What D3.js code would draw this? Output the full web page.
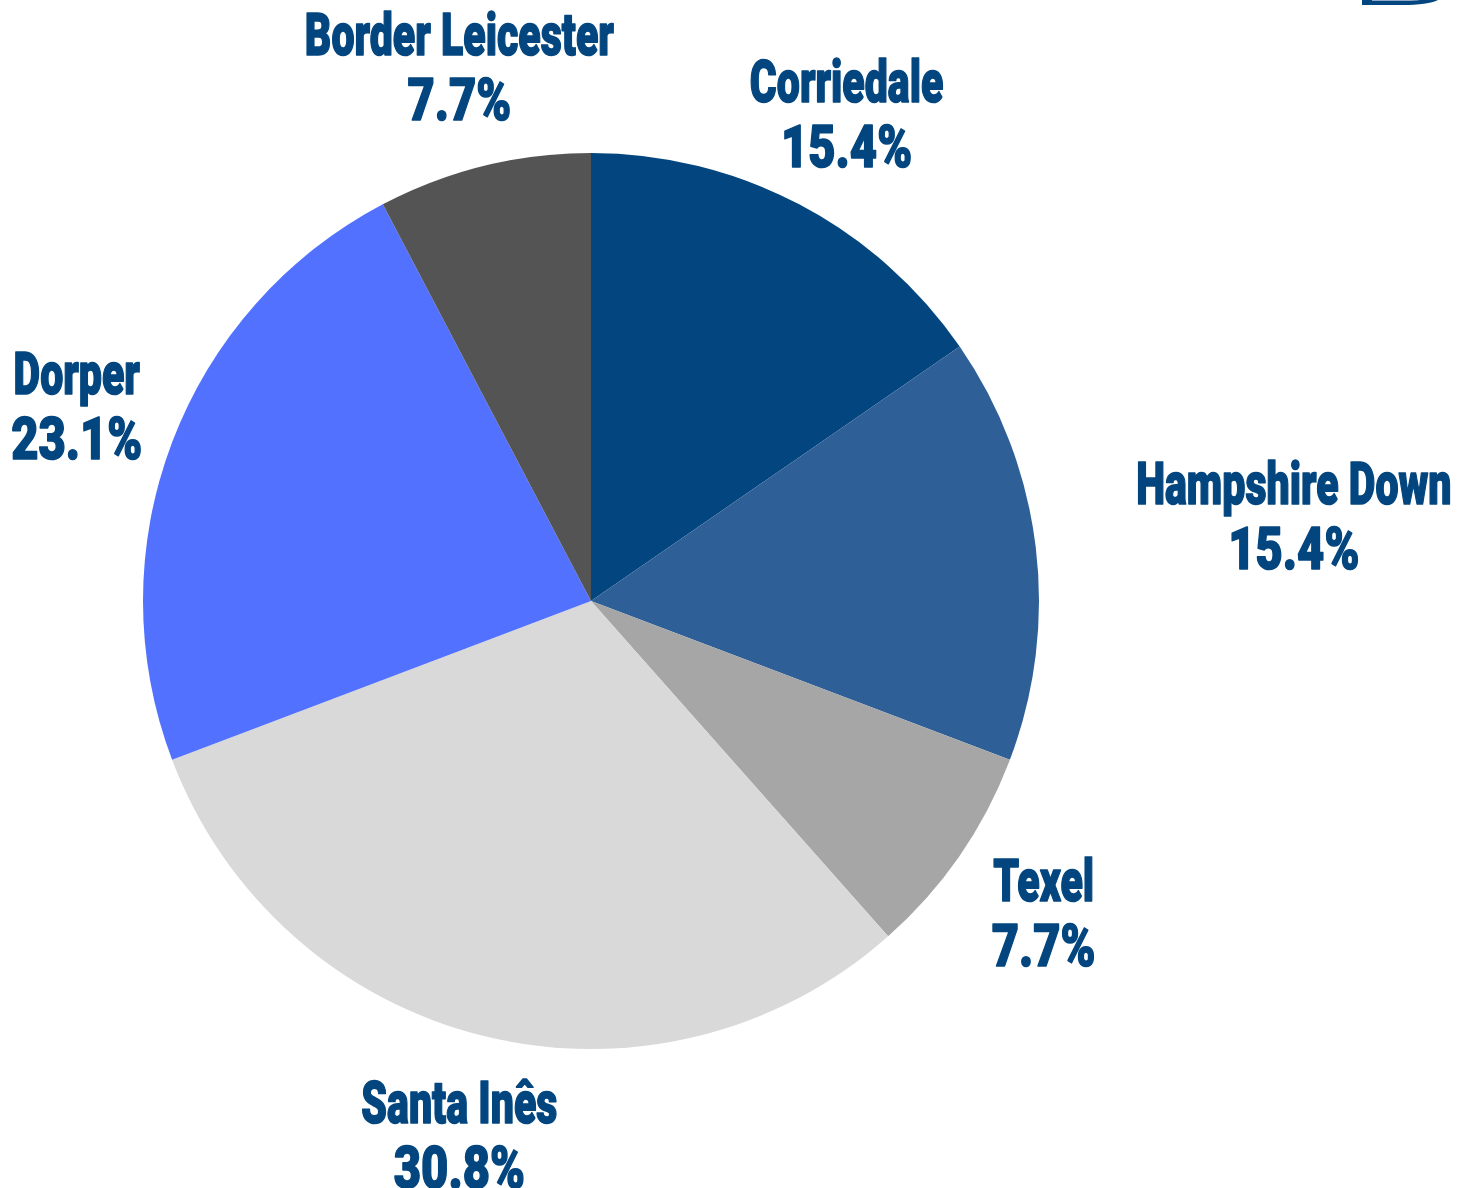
<!DOCTYPE html>
<html>
<head>
<meta charset="utf-8">
<script src="https://cdn.jsdelivr.net/npm/d3@7"></script>
<style>
  html, body { margin: 0; padding: 0; background: #ffffff; }
  svg { display: block; }
</style>
</head>
<body>
<svg id="chart" width="1466" height="1188"></svg>
<script>
// ---- data ----
const breeds = ["Corriedale", "Hampshire Down", "Texel", "Santa Inês", "Dorper", "Border Leicester"];
const counts = [2, 2, 1, 4, 3, 1];
const percentLabels = ["15.4%", "15.4%", "7.7%", "30.8%", "23.1%", "7.7%"];
const sliceColors = ["#03467f", "#2e5f97", "#a6a6a6", "#d9d9d9", "#5271ff", "#545454"];

// ---- layout ----
const W = 1466, H = 1188;
const cx = 591, cy = 601, R = 448;
const labelR = 550;
const textColor = "#03467f";
const fontSize = 60;
const condenseName = 0.685;
const condensePct = 0.785;

const svg = d3.select("#chart");

// logo fragment in the top-right corner
svg.append("path")
  .attr("d", "M1362,0 L1362,5 L1402,5 Q1428,5 1438,0 Z")
  .attr("fill", textColor);
svg.append("path")
  .attr("d", "M1372,0 L1372,1 L1405,1 Q1416,1 1420,0 Z")
  .attr("fill", "#8fa9c6");

const pie = d3.pie().value(d => d).sort(null);
const arcs = pie(counts);
const arc = d3.arc().innerRadius(0).outerRadius(R);
const color = d3.scaleOrdinal().domain(breeds).range(sliceColors);

const g = svg.append("g").attr("transform", `translate(${cx},${cy})`);
g.selectAll("path.slice")
  .data(arcs)
  .join("path")
  .attr("class", "slice")
  .attr("d", arc)
  .attr("fill", (d, i) => color(breeds[i]));

// labels
function labelRadius(a) {
  // horizontal-ish labels are pushed further out so the wide text clears the pie
  const mid = (a.startAngle + a.endAngle) / 2;
  return Math.abs(Math.sin(mid)) > 0.98 ? 708 : labelR;
}
const labelsG = g.append("g");
arcs.forEach((a, i) => {
  const mid = (a.startAngle + a.endAngle) / 2;
  const r = labelRadius(a);
  const x = Math.sin(mid) * r;
  const y = -Math.cos(mid) * r;
  const lines = [breeds[i], percentLabels[i]];
  lines.forEach((t, j) => {
    const txt = labelsG.append("text")
      .attr("x", x)
      .attr("y", y + (j === 0 ? -12 : 53))
      .attr("text-anchor", "middle")
      .attr("font-family", "Roboto, 'DejaVu Sans Condensed', sans-serif")
      .attr("font-weight", 900)
      .attr("font-size", fontSize)
      .attr("fill", textColor)
      .attr("stroke", textColor)
      .attr("stroke-width", 1.6)
      .attr("stroke-linejoin", "round")
      .text(t);
    const w = txt.node().getComputedTextLength();
    txt.attr("textLength", w * (j === 0 ? condenseName : condensePct))
       .attr("lengthAdjust", "spacingAndGlyphs");
  });
});
</script>
</body>
</html>
